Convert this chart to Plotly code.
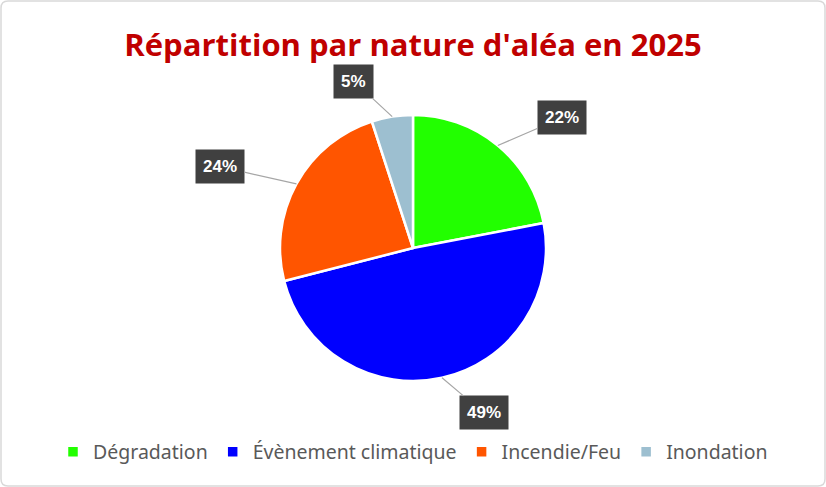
import math
import plotly.graph_objects as go

# Data
categories = ["Dégradation", "Évènement climatique", "Incendie/Feu", "Inondation"]
shares = [22, 49, 24, 5]
colors = ["#22FF00", "#0000FF", "#FF5500", "#9DBFD0"]

W, H = 826, 487
cx, cy, r = 413, 248, 133  # pie centre / radius in pixels

fig = go.Figure()

fig.add_trace(go.Pie(
    labels=categories,
    values=shares,
    sort=False,
    direction="clockwise",
    rotation=0,
    marker=dict(colors=colors, line=dict(color="white", width=2.5)),
    textinfo="none",
    hoverinfo="label+percent",
    domain=dict(x=[0, 1], y=[(H - cy - r) / H, (H - cy + r) / H]),
))

# Outside labels in dark boxes with leader lines
total = sum(shares)
cum = 0
annotations = []
for label, v in zip(categories, shares):
    mid = (cum + v / 2) / total
    cum += v
    th = 2 * math.pi * mid
    s = math.sin(th)
    ex, ey = cx + r * s, cy - r * math.cos(th)
    shift = 30 + 20 * abs(s)
    lx = cx + 1.25 * r * s + (shift if s >= 0 else -shift)
    ly = cy - 1.27 * r * math.cos(th)
    annotations.append(dict(
        x=ex / W, y=(H - ey) / H, xref="paper", yref="paper",
        ax=lx - ex, ay=ly - ey,
        text=f"<b>{v}%</b>",
        showarrow=True, arrowhead=0, arrowwidth=1.2, arrowcolor="#A6A6A6",
        bgcolor="#404040", borderpad=7,
        font=dict(family="Liberation Sans, Arial", size=17, color="white"),
    ))

# rounded frame around the chart area
k = 7  # corner radius in px
x0, x1, y0, y1 = 1 / W, 1 - 1 / W, 1 / H, 1 - 1 / H
kx, ky = k / W, k / H
frame = (f"M {x0 + kx},{y1} L {x1 - kx},{y1} Q {x1},{y1} {x1},{y1 - ky} "
         f"L {x1},{y0 + ky} Q {x1},{y0} {x1 - kx},{y0} "
         f"L {x0 + kx},{y0} Q {x0},{y0} {x0},{y0 + ky} "
         f"L {x0},{y1 - ky} Q {x0},{y1} {x0 + kx},{y1} Z")

fig.update_layout(
    width=W, height=H,
    margin=dict(l=0, r=0, t=0, b=0),
    paper_bgcolor="white",
    title=dict(
        text="<b>Répartition par nature d'aléa en 2025</b>",
        x=0.5, xanchor="center", y=1 - 45 / H, yanchor="middle",
        font=dict(family="Open Sans", size=31, color="#C00000"),
    ),
    legend=dict(
        orientation="h", x=0.5, xanchor="center",
        y=(H - 452) / H, yanchor="middle",
        font=dict(family="Noto Sans", size=19.5, color="#595959"),
        itemwidth=30,
    ),
    annotations=annotations,
    shapes=[dict(
        type="path", xref="paper", yref="paper", path=frame,
        line=dict(color="#D9D9D9", width=1.5),
    )],
)

fig.write_html("out.html", config={"displayModeBar": False},
               post_script="document.body.style.margin='0';")
